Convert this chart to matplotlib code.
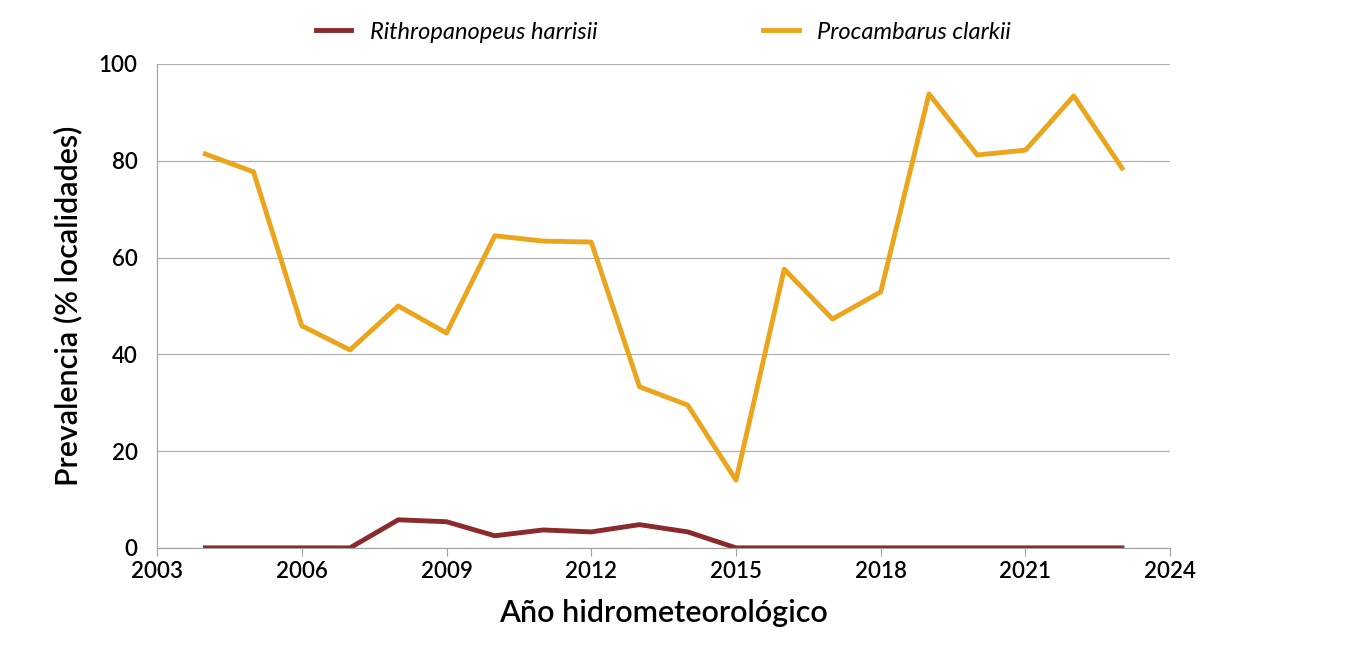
import matplotlib

matplotlib.use("Agg")
import matplotlib.pyplot as plt

plt.rcParams["font.family"] = ["Lato", "DejaVu Sans"]

years = list(range(2004, 2024))
rithropanopeus = [0, 0, 0, 0, 5.8, 5.4, 2.5, 3.7, 3.3, 4.8, 3.3, 0, 0, 0, 0, 0, 0, 0, 0, 0]
procambarus = [81.4, 77.7, 45.9, 40.9, 50.0, 44.4, 64.5, 63.4, 63.2, 33.3, 29.5, 14.0,
               57.6, 47.3, 52.9, 93.8, 81.2, 82.2, 93.4, 78.5]
xticks = [2003, 2006, 2009, 2012, 2015, 2018, 2021, 2024]

fig = plt.figure(figsize=(13.56, 6.53), dpi=100)
ax = fig.add_axes([0.1158, 0.161, 0.7472, 0.741])
ax.plot(years, rithropanopeus, color="#8b2a2a", lw=3.5, label="Rithropanopeus harrisii")
ax.plot(years, procambarus, color="#eba51c", lw=3.5, label="Procambarus clarkii")

ax.set_xlim(2003, 2024)
ax.set_ylim(0, 100)
ax.set_xticks(xticks)
ax.set_yticks(range(0, 101, 20))
ax.grid(axis="y", color="#b0b0b0", lw=0.9)
ax.set_axisbelow(True)
for s in ("top", "right"):
    ax.spines[s].set_visible(False)
for s in ("left", "bottom"):
    ax.spines[s].set_color("#a0a0a0")
ax.tick_params(axis="y", length=0, labelsize=16, pad=14)
ax.tick_params(axis="x", length=6, color="#a0a0a0", labelsize=16)
for lbl in ax.get_xticklabels() + ax.get_yticklabels():
    lbl.set_fontweight("semibold")
ax.set_xlabel("Año hidrometeorológico", fontsize=22, labelpad=12, fontweight="semibold")
ax.set_ylabel("Prevalencia (% localidades)", fontsize=22, labelpad=12, fontweight="semibold")

leg = ax.legend(loc="lower center", bbox_to_anchor=(0.5, 1.0), ncol=2, frameon=False,
                prop={"size": 17, "style": "italic"}, columnspacing=7, handlelength=1.5)
fig.savefig("out.png", dpi=100)
